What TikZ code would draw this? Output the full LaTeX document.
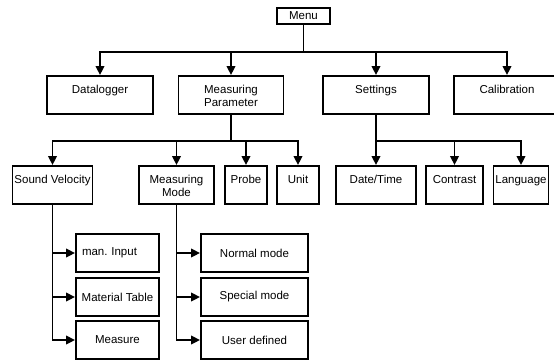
\documentclass[tikz,border=0pt]{standalone}
\usepackage{fontspec}
\setmainfont{Liberation Sans}
\usetikzlibrary{arrows.meta}

\begin{document}
\begin{tikzpicture}[x=1pt,y=-1pt,
  box/.style={draw,line width=1.9pt,inner sep=0pt,align=center,font=\fontsize{11.5}{13.2}\selectfont},
  topbox/.style={box,text height=17pt,text depth=21pt},
  twobox/.style={box,text height=30.2pt,text depth=7.8pt},
  lowbox/.style={box,minimum height=38pt},
  link/.style={line width=1.9pt},
  arr/.style={link,-{Triangle[length=9pt,width=8.5pt]}}]

\clip (0,0) rectangle (554,360);

\node[box,minimum width=53pt,minimum height=16pt] (menu) at (303.5,16) {Menu};

\node[topbox,minimum width=106pt] (datalogger) at (100,95) {Datalogger};
\node[twobox,minimum width=105pt] (measpar) at (231,95) {Measuring\\Parameter};
\node[topbox,minimum width=106pt] (settings) at (376,95) {Settings};
\node[topbox,minimum width=106pt] (calib) at (507,95) {Calibration};

\node[topbox,minimum width=80pt] (soundvel) at (52.5,185) {Sound Velocity};
\node[twobox,minimum width=75pt] (measmode) at (176.5,185) {Measuring\\Mode};
\node[topbox,minimum width=42pt] (probe) at (246,185) {Probe};
\node[topbox,minimum width=42pt] (unit) at (298,185) {Unit};
\node[topbox,minimum width=80pt] (datetime) at (376,185) {Date/Time};
\node[topbox,minimum width=57pt] (contrast) at (454.5,185) {Contrast};
\node[topbox,minimum width=55pt] (language) at (521,185) {Language};

\node[lowbox,minimum width=83pt,text width=71pt,align=left] (maninput) at (117.5,253) {man.\ Input};
\node[lowbox,minimum width=83pt] (mattable) at (117.5,297) {Material Table};
\node[lowbox,minimum width=83pt] (measure) at (117.5,340) {Measure};

\node[lowbox,minimum width=107pt] (normal) at (254.5,253) {Normal mode};
\node[lowbox,minimum width=107pt] (special) at (254.5,297) {Special mode};
\node[lowbox,minimum width=107pt] (userdef) at (254.5,340) {User defined};

\draw[link] (menu.south) -- ++(0,27) coordinate (menubus);
\foreach \n in {datalogger,measpar,settings,calib}
  \draw[arr] (menubus) -| (\n.north);

\draw[link] (measpar.south) -- ++(0,26) coordinate (parbus);
\foreach \n in {soundvel,measmode,probe,unit}
  \draw[arr] (parbus) -| (\n.north);

\draw[link] (settings.south) -- ++(0,26) coordinate (setbus);
\foreach \n in {datetime,contrast,language}
  \draw[arr] (setbus) -| (\n.north);

\foreach \n in {maninput,mattable,measure}
  \draw[arr] (soundvel.south) |- (\n.west);
\foreach \n in {normal,special,userdef}
  \draw[arr] (measmode.south) |- (\n.west);

\end{tikzpicture}
\end{document}
